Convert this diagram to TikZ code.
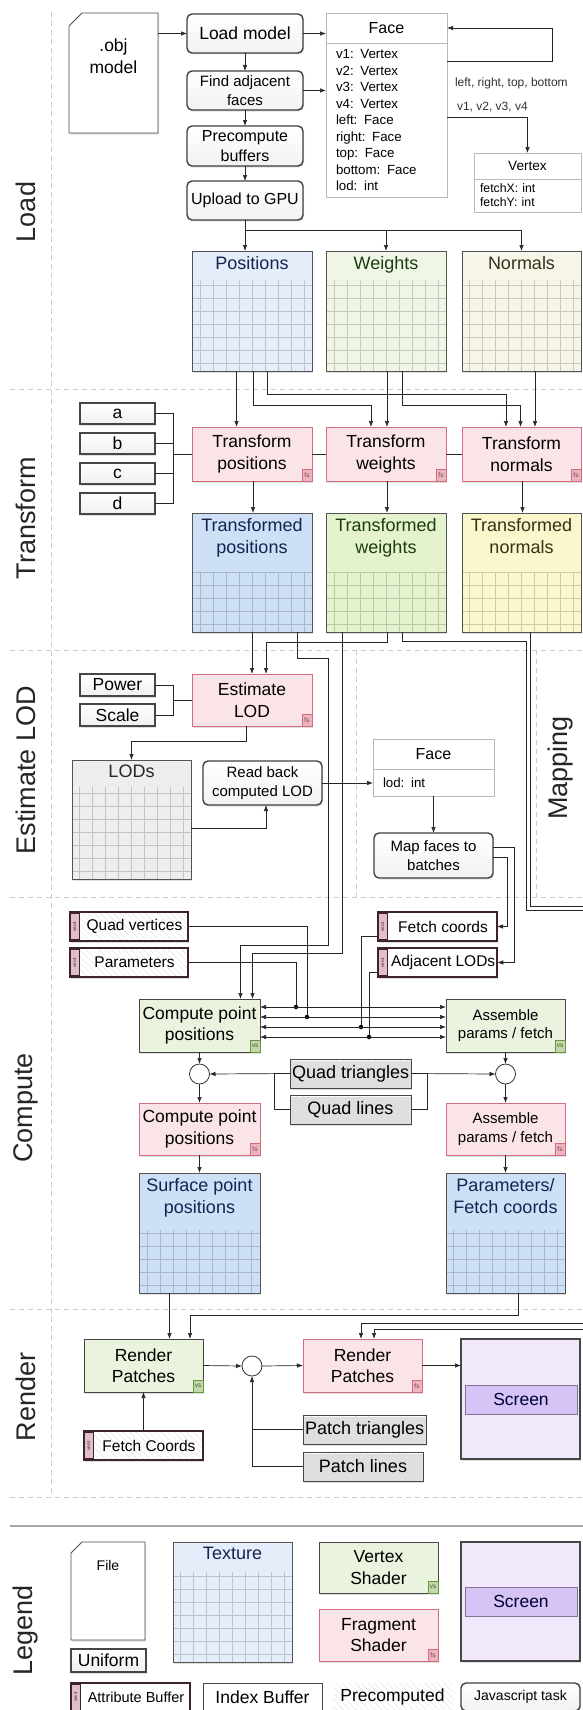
\documentclass[tikz,border=0pt]{standalone}
\usepackage{fontspec}
\setmainfont{Liberation Sans}
\usepackage{tikz}
\usetikzlibrary{positioning, calc, arrows.meta, shadows, patterns.meta, backgrounds}

\definecolor{fsfill}{RGB}{251,228,232}
\definecolor{fsdraw}{RGB}{212,108,128}
\definecolor{vsfill}{RGB}{234,243,222}
\definecolor{vsdraw}{RGB}{105,150,60}
\definecolor{texBlueL}{RGB}{228,237,249}
\definecolor{texGreenL}{RGB}{239,246,230}
\definecolor{texYellowL}{RGB}{246,245,232}
\definecolor{texBlue}{RGB}{206,224,246}
\definecolor{texGreen}{RGB}{228,243,206}
\definecolor{texYellow}{RGB}{251,247,204}
\definecolor{texGray}{RGB}{238,238,238}
\definecolor{scrFill}{RGB}{241,233,251}
\definecolor{scrBand}{RGB}{213,196,245}
\definecolor{vecFill}{RGB}{226,190,200}
\definecolor{attrDraw}{RGB}{60,35,45}
\definecolor{inkBlue}{RGB}{20,35,80}
\definecolor{inkGreen}{RGB}{30,60,15}
\definecolor{inkOlive}{RGB}{50,50,25}

\newcommand{\szSect}{\fontsize{27}{30}\selectfont}
\newcommand{\szBig}{\fontsize{17.5}{21.5}\selectfont}
\newcommand{\szMid}{\fontsize{15}{18.5}\selectfont}
\newcommand{\szItem}{\fontsize{13.3}{16.5}\selectfont}
\newcommand{\szNote}{\fontsize{12}{14}\selectfont}
\newcommand{\szBadge}{\fontsize{6.5}{7}\selectfont}
\newcommand{\szTag}{\fontsize{4.5}{5}\selectfont}

\tikzset{
  every node/.style={outer sep=0pt},
  wh/.style 2 args={minimum width=#1, minimum height=#2},
  shade/.style={drop shadow={shadow xshift=1pt, shadow yshift=-1.5pt, opacity=0.25}},
  conn/.style={draw=black!85, line width=0.7pt},
  conna/.style={conn, -{Latex[length=6pt,width=4.5pt]}},
  connboth/.style={conn, {Latex[length=6pt,width=4.5pt]}-{Latex[length=6pt,width=4.5pt]}},
  section/.style={draw=gray!40, line width=0.7pt, dash pattern=on 5pt off 4pt},
  sectlabel/.style={rotate=90, font=\szSect, text=black!85, inner sep=0pt},
  blk/.style={anchor=north west, inner sep=2pt, align=center},
  jstask/.style={blk, draw=black!75, line width=1.4pt, rounded corners=5pt,
    top color=white, bottom color=gray!10, font=\szMid, shade},
  uniform/.style={blk, draw=gray!55!black, line width=1.8pt, top color=white,
    bottom color=gray!12, font=\szBig, inner sep=0pt, shade},
  fsbadge/.style={anchor=south east, draw=fsdraw, fill=fsfill!60!fsdraw, text=fsdraw!60!black,
    font=\szBadge, inner sep=0.5pt, minimum width=10pt, minimum height=12pt, line width=0.7pt},
  vsbadge/.style={anchor=south east, draw=vsdraw, fill=vsfill!70!vsdraw, text=vsdraw!60!black,
    font=\szBadge, inner sep=0.5pt, minimum width=10pt, minimum height=12pt, line width=0.7pt},
  fs/.style={blk, draw=fsdraw, line width=1pt, fill=fsfill, font=\szBig,
    label={[fsbadge]south east:fs}, shade},
  vs/.style={blk, draw=gray!55!black, line width=1pt, fill=vsfill, font=\szBig,
    label={[vsbadge]south east:vs}, shade},
  hatch/.style={preaction={fill=white},
    pattern={Lines[angle=-45,distance=4.5pt,line width=0.3pt]}, pattern color=gray!28},
  vectag/.style={rotate=90, anchor=north, minimum width=26pt, minimum height=9pt,
    inner sep=0pt, fill=vecFill, draw=attrDraw, line width=0.5pt, font=\szTag, text=attrDraw},
  attr/.style={blk, draw=attrDraw, line width=1.6pt, fill=white,
    font=\fontsize{15.5}{18}\selectfont, execute at begin node=\hspace*{11pt},
    label={[vectag]west:#1}, shade},
  idxbuf/.style={blk, draw=gray!55!black, line width=0.8pt, hatch,
    font=\fontsize{18}{21}\selectfont, shade},
  idxplain/.style={blk, draw=gray!55!black, line width=0.8pt, fill=white, font=\szBig},
  screen/.style={blk, draw=gray!55!black, line width=1.6pt, fill=scrFill, shade},
  band/.style={blk, draw=scrBand!60!black, line width=0.7pt, fill=scrBand,
    font=\szBig, text=black!80!blue},
  umlhead/.style={blk, draw=gray!55, line width=0.7pt, fill=white, font=\fontsize{16}{19}\selectfont},
  umlbody/.style={blk, draw=gray!55, line width=0.7pt, fill=white, align=left,
    inner xsep=10pt, inner ysep=0pt, font=\szItem},
  note/.style={anchor=west, inner sep=0pt, font=\szNote, text=black!80},
  texture/.style 2 args={blk, fill=#1, draw=gray!65!black, line width=1pt, shade,
    path picture={\draw[#1!82!black, line width=0.55pt]
      ([yshift=-#2]path picture bounding box.north west) grid[step=13pt]
      (path picture bounding box.south east);}},
  thead/.style={anchor=north, yshift=-3pt, align=center, font=\fontsize{18}{22}\selectfont, inner sep=2pt},
  filetext/.style={anchor=north, yshift=-26pt, align=center, font=\szBig, inner sep=0pt},
  fileshape/.style={draw=gray!60!black, line width=0.9pt, fill=white, shade},
  jdot/.style={circle, fill=black, inner sep=0pt, minimum size=4.5pt},
  merge/.style={circle, draw=black!80, line width=0.8pt, fill=white, inner sep=0pt, minimum size=20pt}
}

\begin{document}
\begin{tikzpicture}[x=1pt, y=-1pt]
  \useasboundingbox (0,0) rectangle (583,1710);

  % Section labels
  \node[sectlabel] (sLoad) at (26,212) {Load};
  \node[sectlabel] (sTrans) at (26,518) {Transform};
  \node[sectlabel] (sEst) at (26,770) {Estimate LOD};
  \node[sectlabel] (sComp) at (26,1108) {Compute};
  \node[sectlabel] (sRend) at (26,1397) {Render};
  \node[sectlabel] (sLeg) at (26,1630) {Legend};
  \node[sectlabel] (sMap) at (561,768) {Mapping};

  % Load
  \node[blk, wh={89}{120}, label={[filetext]north:.obj\\model}] (obj) at (69,13) {};
  \node[jstask, wh={116}{39}, font=\szBig] (load) at (187,14) {Load model};
  \node[jstask, wh={116}{39}] (adj) at (187,71) {Find adjacent\\faces};
  \node[jstask, wh={116}{40}, font=\fontsize{16}{20}\selectfont] (pre) at (187,126) {Precompute\\buffers};
  \node[jstask, wh={116}{39}, font=\fontsize{16}{20}\selectfont] (upl) at (187,181) {Upload to GPU};

  \node[umlhead, wh={121}{30}] (faceH) at (326,13) {Face};
  \node[umlbody, text width=101pt, minimum height=154] (faceB) at (326,43)
    {v1: Vertex\\v2: Vertex\\v3: Vertex\\v4: Vertex\\left: Face\\right: Face\\top: Face\\bottom: Face\\lod: int};
  \node[umlhead, wh={107}{26}, font=\fontsize{13.6}{16}\selectfont] (vtxH) at (474,153) {Vertex};
  \node[umlbody, text width=95pt, inner xsep=6pt, minimum height=33,
    font=\fontsize{12.3}{14}\selectfont] (vtxB) at (474,179) {fetchX: int\\fetchY: int};
  \node[note] (lblLink) at (455,83) {left, right, top, bottom};
  \node[note] (lblVert) at (457,107) {v1, v2, v3, v4};

  \node[texture={texBlueL}{29pt}, wh={120}{120}, label={[thead, text=inkBlue]north:Positions}] (pos) at (192,251) {};
  \node[texture={texGreenL}{29pt}, wh={120}{120}, label={[thead, text=inkGreen]north:Weights}] (wgt) at (326,251) {};
  \node[texture={texYellowL}{29pt}, wh={119}{120}, label={[thead, text=inkOlive]north:Normals}] (nrm) at (462,251) {};

  \draw[conna] (obj.east |- load.west) -- (load.west);
  \draw[conna] (load.south) -- (adj.north);
  \draw[conna] (adj.south) -- (pre.north);
  \draw[conna] (pre.south) -- (upl.north);
  \draw[conna] (load.east) -- (load.east -| faceH.west);
  \draw[conna] (adj.east) -- (adj.east -| faceB.west);
  \draw[conna] ($(faceB.north east)+(0,18)$) -- ++(105,0) |- (faceH.east);
  \draw[conna] ($(faceB.north east)+(0,74)$) -| (vtxH.north);
  \draw[conna] (upl.south) -- (upl.south |- pos.north);
  \draw[conna] (upl.south) -- ++(0,10) -| (wgt.north);
  \draw[conna] (upl.south) -- ++(0,10) -| (nrm.north);

  % Transform
  \node[uniform, wh={75}{21}] (ua) at (80,403) {a};
  \node[uniform, wh={75}{21}] (ub) at (80,433) {b};
  \node[uniform, wh={75}{21}] (uc) at (80,463) {c};
  \node[uniform, wh={75}{21}] (ud) at (80,493) {d};
  \node[fs, wh={120}{54}] (tpos) at (192,427) {Transform\\positions};
  \node[fs, wh={120}{54}] (twgt) at (326,427) {Transform\\weights};
  \node[fs, wh={119}{54}] (tnrm) at (462,427) {Transform\\normals};
  \node[texture={texBlue}{59pt}, wh={120}{119}, label={[thead, text=inkBlue]north:Transformed\\positions}] (ttpos) at (192,513) {};
  \node[texture={texGreen}{59pt}, wh={120}{119}, label={[thead, text=inkGreen]north:Transformed\\weights}] (ttwgt) at (326,513) {};
  \node[texture={texYellow}{59pt}, wh={119}{119}, label={[thead, text=inkOlive]north:Transformed\\normals}] (ttnrm) at (462,513) {};

  \draw[conna] ([xshift=-15.5pt]pos.south) -- ([xshift=-15.5pt]tpos.north);
  \draw[conna] ([xshift=1pt]pos.south) -- ++(0,34) -| ([xshift=-15pt]twgt.north);
  \draw[conna] ([xshift=15pt]pos.south) -- ++(0,23) -| ([xshift=-15.5pt]tnrm.north);
  \draw[conna] ([xshift=1pt]wgt.south) -- ([xshift=1pt]twgt.north);
  \draw[conna] ([xshift=16pt]wgt.south) -- ++(0,34) -| ([xshift=-1pt]tnrm.north);
  \draw[conna] ([xshift=13.5pt]nrm.south) -- ([xshift=13.5pt]tnrm.north);
  \draw[conn] (ua.east) -- ++(18,0) coordinate (uBr) |- (ud.east);
  \draw[conn] (ub.east) -- (ub.east -| uBr);
  \draw[conn] (uc.east) -- (uc.east -| uBr);
  \draw[conn] (uBr |- tpos.west) -- (tpos.west);
  \draw[conn] (tpos.east) -- (twgt.west);
  \draw[conn] (twgt.east) -- (tnrm.west);
  \draw[conna] ([xshift=1pt]tpos.south) -- ([xshift=1pt]ttpos.north);
  \draw[conna] ([xshift=1pt]twgt.south) -- ([xshift=1pt]ttwgt.north);
  \draw[conna] ([xshift=1pt]tnrm.south) -- ([xshift=1pt]ttnrm.north);

  % Estimate LOD
  \node[uniform, wh={75}{22}] (upow) at (80,674) {Power};
  \node[uniform, wh={75}{22}] (uscl) at (80,704) {Scale};
  \node[fs, wh={120}{52}] (est) at (192,674) {Estimate\\LOD};
  \node[texture={texGray}{27pt}, wh={119}{119}, label={[thead, text=black!85]north:LODs}] (lods) at (72,760) {};
  \node[jstask, wh={119}{44}] (rdb) at (203,761) {Read back\\computed LOD};
  \node[umlhead, wh={121}{30}] (face2H) at (373,739) {Face};
  \node[umlbody, text width=101pt, minimum height=27] (face2B) at (373,769) {lod: int};
  \node[jstask, wh={119}{45}] (map) at (374,833) {Map faces to\\batches};

  \draw[conn] (upow.east) -- ++(18,0) coordinate (pBr) |- (uscl.east);
  \draw[conn] (pBr |- est.west) -- (est.west);
  \draw[conna] (ttpos.south) -- (est.north);
  \draw[conna] ([xshift=1pt]ttwgt.south) -- ++(0,10) -| ([xshift=14pt]est.north);
  \draw[conna] ([xshift=-6pt]est.south) -- ++(0,15) -| (lods.north);
  \draw[conna] ($(lods.north east)+(0,68)$) -| ([xshift=3.5pt]rdb.south);
  \draw[conna] (rdb.east) -- (rdb.east -| face2B.west);
  \draw[conna] (face2B.south) -- (map.north);

  % Compute
  \node[attr=vec4, hatch, wh={118}{29}] (qv) at (70,912) {Quad vertices};
  \node[attr=vec4, hatch, wh={118}{29}] (prm) at (70,948) {Parameters};
  \node[attr=vec2, wh={119}{29}] (fetchc) at (378,912) {Fetch coords};
  \node[attr=vec4, wh={119}{29}] (adjl) at (378,948) {Adjacent LODs};
  \node[vs, wh={121}{53}] (cpp) at (139,999) {Compute point\\positions};
  \node[vs, wh={119}{53}, font=\szMid] (apf) at (446,999) {Assemble\\params / fetch};
  \node[jdot] (j1) at (296,1007) {};
  \node[jdot] (j2) at (307,1017) {};
  \node[jdot] (j3) at (361,1027) {};
  \node[jdot] (j4) at (369,1037) {};
  \node[merge] (c1) at (199.5,1074) {};
  \node[merge] (c2) at (505.5,1074) {};
  \node[idxbuf, wh={121}{29}] (qtri) at (290,1059) {Quad triangles};
  \node[idxbuf, wh={121}{29}] (qlin) at (290,1095) {Quad lines};
  \node[fs, wh={121}{52}] (cppf) at (139,1103) {Compute point\\positions};
  \node[fs, wh={119}{52}, font=\szMid] (apff) at (446,1103) {Assemble\\params / fetch};
  \node[texture={texBlue}{57pt}, wh={121}{120}, label={[thead, text=inkBlue]north:Surface point\\positions}] (surf) at (139,1173) {};
  \node[texture={texBlue}{57pt}, wh={119}{120}, label={[thead, text=inkBlue]north:Parameters/\\Fetch coords}] (prmT) at (446,1173) {};

  \coordinate (offA) at (590,910);
  \coordinate (offB) at (590,906);
  \draw[conna] ([xshift=45pt]ttpos.south) -- ++(0,26) -- ++(31,0) -- ++(0,287) -| ([xshift=41pt]cpp.north);
  \draw[conna] ([xshift=-44pt]ttwgt.south) -- ++(0,321) -| ([xshift=53pt]cpp.north);
  \draw[conn] ([xshift=16pt]ttwgt.south) -- ++(0,9) -- ++(124,0) -- ++(0,269) -- (offA);
  \draw[conn] ([xshift=9pt]ttnrm.south) -- ++(0,274) -- (offB);
  \draw[conna] ($(map.north east)+(0,14)$) -- ++(21,0) |- (adjl.east);
  \draw[conna] ($(map.north east)+(0,24)$) -- ++(14,0) |- (fetchc.east);
  \draw[conn] (prm.east) -| (j1);
  \draw[conn] (qv.east) -| (j2);
  \draw[conn] ([yshift=-10pt]fetchc.west) -| (j3);
  \draw[conn] ([yshift=-10pt]adjl.west) -| (j4);
  \foreach \dy in {8,18,28,38}
    \draw[connboth] ($(cpp.north east)+(0,\dy)$) -- ($(apf.north west)+(0,\dy)$);
  \draw[conna] (cpp.south) -- (c1.north);
  \draw[conna] (c1.south) -- (cppf.north);
  \draw[conna] (apf.south) -- (c2.north);
  \draw[conna] (c2.south) -- (apff.north);
  \draw[conna] (qtri.west) -- (c1.east);
  \draw[conn] (qlin.west) -- ++(-16,0) |- (qtri.west);
  \draw[conna] (qtri.east) -- (c2.west);
  \draw[conn] (qlin.east) -- ++(16,0) |- (qtri.east);
  \draw[conna] (cppf.south) -- (surf.north);
  \draw[conna] (apff.south) -- (prmT.north);

  % Render
  \node[vs, wh={119}{53}] (rvs) at (84,1339) {Render\\Patches};
  \node[merge] (c3) at (252,1366) {};
  \node[fs, wh={119}{53}] (rfs) at (303,1339) {Render\\Patches};
  \node[screen, wh={119}{120}] (scr) at (461,1339) {};
  \node[band, wh={112}{29}] (scrB) at (465,1385) {Screen};
  \node[attr=vec4, hatch, wh={119}{29}] (fcr) at (84,1431) {Fetch Coords};
  \node[idxbuf, wh={120}{29}] (ptri) at (303,1415) {Patch triangles};
  \node[idxbuf, wh={120}{29}] (plin) at (303,1452) {Patch lines};

  \coordinate (retA) at (590,1323);
  \coordinate (retB) at (590,1329);
  \draw[conna] ([xshift=-30pt]surf.south) -- ([xshift=-30pt]surf.south |- rvs.north);
  \draw[conna] ([xshift=12.5pt]prmT.south) -- ++(0,22) -| ([xshift=46.5pt]rvs.north);
  \draw[conna] (retA) -| ([xshift=-1.5pt]rfs.north);
  \draw[conna] (retB) -| ([xshift=11.5pt]rfs.north);
  \draw[conna] (rvs.east) -- (c3.west);
  \draw[conna] (c3.east) -- (rfs.west);
  \draw[conna] (rfs.east) -- (rfs.east -| scr.west);
  \draw[conna] (fcr.north) -- (rvs.south);
  \draw[conna] (plin.west) -| (c3.south);
  \draw[conn] (ptri.west) -- (ptri.west -| c3.south);

  % Legend
  \node[blk, wh={74}{98}, label={[filetext, yshift=8pt, font=\fontsize{14}{16}\selectfont]north:File}] (lfile) at (71,1542) {};
  \node[uniform, wh={75}{23}] (lunif) at (71,1649) {Uniform};
  \node[texture={texBlueL}{30pt}, wh={119}{120}, label={[thead, text=inkBlue]north:Texture}] (ltex) at (173,1542) {};
  \node[vs, wh={119}{51}] (lvs) at (319,1542) {Vertex\\Shader};
  \node[fs, wh={119}{52}] (lfs) at (319,1609) {Fragment\\Shader};
  \node[screen, wh={119}{119}] (lscr) at (461,1542) {};
  \node[band, wh={112}{29}] (lscrB) at (465,1587) {Screen};
  \node[attr=vec4, wh={119}{28}, font=\fontsize{14.5}{17}\selectfont] (lattr) at (71,1683) {Attribute Buffer};
  \node[idxplain, wh={119}{28}] (lidx) at (203,1683) {Index Buffer};
  \node[blk, hatch, wh={119}{28}, font=\szBig] (lpre) at (333,1683) {Precomputed};
  \node[jstask, wh={119}{28}, font=\fontsize{14}{17}\selectfont] (ljs) at (461,1683) {Javascript task};

  % Section lines and file shapes
  \begin{scope}[on background layer]
    \fill[white] (0,0) rectangle (583,1710);
    \foreach \yy in {389,650,897,1309,1497}
      \draw[section] (10,\yy) -- (583,\yy);
    \draw[section] (51,12) -- (51,1497);
    \draw[section] (356,650) -- (356,897);
    \draw[section] (536,650) -- (536,897);
    \draw[gray!70, line width=1.2pt] (10,1526) -- (583,1526);
    \filldraw[fileshape] ([yshift=-13pt]obj.north west) -- ([xshift=13pt]obj.north west)
      -- (obj.north east) -- (obj.south east) -- (obj.south west) -- cycle;
    \filldraw[fileshape] ([yshift=-11pt]lfile.north west) -- ([xshift=11pt]lfile.north west)
      -- (lfile.north east) -- (lfile.south east) -- (lfile.south west) -- cycle;
  \end{scope}

\end{tikzpicture}
\end{document}
